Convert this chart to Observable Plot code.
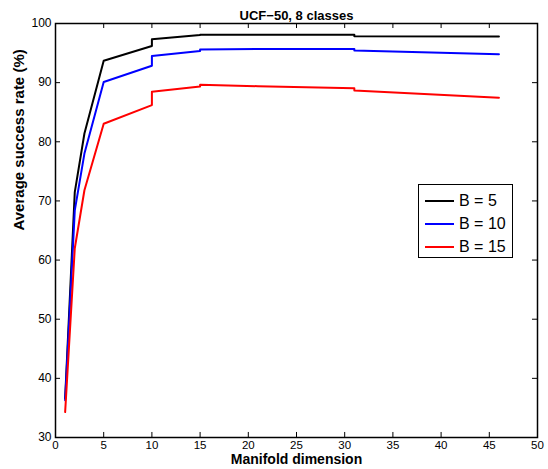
<!DOCTYPE html>
<html>
<head>
<meta charset="utf-8">
<script src="https://cdn.jsdelivr.net/npm/d3@7"></script>
<script src="https://cdn.jsdelivr.net/npm/@observablehq/plot@0.6"></script>
<style>
  body { margin: 0; background: #fff; }
  #wrap { position: relative; width: 548px; height: 469px; font-family: "Liberation Sans", Arial, Helvetica, sans-serif; }
  #legend { position: absolute; left: 418px; top: 184px; width: 95px; height: 74px; border: 1px solid #000; background: #fff; box-sizing: border-box; }
  .row { position: absolute; left: 0; height: 20px; display: flex; align-items: center; font-size: 16px; }
  .sw { width: 29px; height: 0; border-top: 2px solid; margin-left: 6px; margin-right: 5px; }
</style>
</head>
<body>
<div id="wrap"></div>
<script>
const title = "UCF\u221250, 8 classes";
const xLabel = "Manifold dimension";
const yLabel = "Average success rate (%)";
const series = ["B = 5", "B = 10", "B = 15"];
const colors = ["#000000", "#0000ff", "#ff0000"];
const dims = [1, 2, 3, 5, 10, 10, 15, 15, 21, 31, 31, 46];
const rateB5  = [36.6, 71.5, 81.4, 93.7, 96.2, 97.35, 98.05, 98.1, 98.1, 98.1, 97.85, 97.8];
const rateB10 = [36.3, 68.4, 78.0, 90.1, 92.85, 94.5, 95.35, 95.6, 95.7, 95.7, 95.45, 94.8];
const rateB15 = [34.3, 62.0, 71.8, 83.05, 86.2, 88.45, 89.35, 89.65, 89.4, 89.06, 88.67, 87.44];
const xTicks = [0, 5, 10, 15, 20, 25, 30, 35, 40, 45, 50];
const yTicks = [30, 40, 50, 60, 70, 80, 90, 100];

const allRates = [rateB5, rateB10, rateB15];
const rows = [];
series.forEach((s, i) => dims.forEach((d, j) => rows.push({series: s, dim: d, rate: allRates[i][j]})));

const xDom = [0, 50], yDom = [30, 100];
const tx = 0.52, ty = 0.85; // inward tick lengths in data units

const font = "Liberation Sans, Arial, Helvetica, sans-serif";
const chart = Plot.plot({
  width: 548,
  height: 469,
  marginLeft: 55,
  marginRight: 11,
  marginTop: 23,
  marginBottom: 32,
  style: {fontFamily: font, fontSize: "12px", background: "#fff", color: "#000"},
  x: {domain: xDom, ticks: xTicks, label: null},
  y: {domain: yDom, ticks: yTicks, label: null},
  color: {domain: series, range: colors},
  marks: [
    Plot.axisX(xTicks, {tickSize: 0, tickPadding: 3, fontSize: 11.5, label: null}),
    Plot.axisY(yTicks, {tickSize: 0, tickPadding: 4, fontSize: 12, label: null}),
    Plot.ruleX(xTicks, {x: d => d, y1: yDom[0], y2: yDom[0] + ty, stroke: "#000", strokeWidth: 1}),
    Plot.ruleX(xTicks, {x: d => d, y1: yDom[1] - ty, y2: yDom[1], stroke: "#000", strokeWidth: 1}),
    Plot.ruleY(yTicks, {y: d => d, x1: xDom[0], x2: xDom[0] + tx, stroke: "#000", strokeWidth: 1}),
    Plot.ruleY(yTicks, {y: d => d, x1: xDom[1] - tx, x2: xDom[1], stroke: "#000", strokeWidth: 1}),
    Plot.line(rows, {x: "dim", y: "rate", z: "series", stroke: "series", strokeWidth: 2}),
    Plot.frame({stroke: "#000", strokeWidth: 1.5}),
    Plot.text([title], {frameAnchor: "top", dy: -13, text: d => d, fontWeight: "bold", fontSize: 13}),
    Plot.text([xLabel], {frameAnchor: "bottom", dy: 26.5, text: d => d, fontWeight: "bold", fontSize: 14}),
    Plot.text([yLabel], {frameAnchor: "left", dx: -36, rotate: -90, text: d => d, fontWeight: "bold", fontSize: 15})
  ]
});
const wrap = document.getElementById("wrap");
wrap.appendChild(chart);

const legend = document.createElement("div");
legend.id = "legend";
const rowTops = [6, 28.5, 52];
series.forEach((s, i) => {
  const r = document.createElement("div");
  r.className = "row";
  r.style.top = rowTops[i] + "px";
  const sw = document.createElement("span");
  sw.className = "sw";
  sw.style.borderTopColor = colors[i];
  const t = document.createElement("span");
  t.textContent = s;
  r.appendChild(sw);
  r.appendChild(t);
  legend.appendChild(r);
});
wrap.appendChild(legend);
</script>
</body>
</html>
